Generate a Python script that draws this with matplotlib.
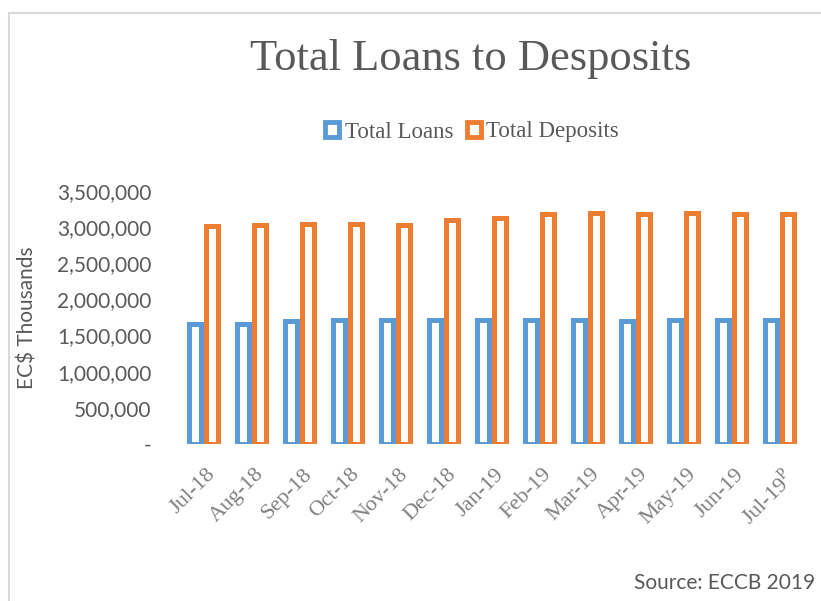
import matplotlib
matplotlib.use("Agg")
import matplotlib.pyplot as plt
import matplotlib.transforms as mtransforms
import numpy as np
from matplotlib.patches import Patch, Rectangle
from matplotlib.ticker import FuncFormatter

plt.rcParams['mathtext.fontset'] = 'custom'
plt.rcParams['mathtext.rm'] = 'Liberation Serif'

months = ["Jul-18", "Aug-18", "Sep-18", "Oct-18", "Nov-18", "Dec-18", "Jan-19",
          "Feb-19", "Mar-19", "Apr-19", "May-19", "Jun-19", r"Jul-19$^\mathrm{P}$"]
loans = [1665000, 1665000, 1700000, 1712000, 1712000, 1712000, 1715000,
         1712000, 1716000, 1705000, 1710000, 1713000, 1712000]
deposits = [3020000, 3035000, 3050000, 3050000, 3035000, 3095000, 3120000,
            3175000, 3192000, 3175000, 3192000, 3178000, 3178000]

blue = "#5B9BD5"
orange = "#ED7D31"
txt = "#595959"

fig = plt.figure(figsize=(8.21, 6.01), dpi=100)
ax = fig.add_axes([179.3 / 821, 1 - 444 / 601, 624 / 821, 253 / 601])

x = np.arange(len(months))
w = 0.244
off = 0.174
ax.bar(x - off, loans, w, facecolor="white", edgecolor=blue, linewidth=3.6, label="Total Loans")
ax.bar(x + off, deposits, w, facecolor="white", edgecolor=orange, linewidth=3.6, label="Total Deposits")

ax.set_xlim(-0.5, len(months) - 0.5)
ax.set_ylim(0, 3500000)
ax.set_yticks(np.arange(0, 3500001, 500000))
ax.yaxis.set_major_formatter(FuncFormatter(lambda v, p: "-" if v == 0 else f"{int(v):,}"))
for s in ax.spines.values():
    s.set_visible(False)
ax.tick_params(axis="y", length=0, pad=20, labelsize=15, labelcolor=txt)
ax.tick_params(axis="x", length=0, pad=15)
for lab in ax.get_yticklabels():
    lab.set_fontfamily("Lato")

ax.set_xticks(x)
ax.set_xticklabels(months, rotation=45, ha="right", rotation_mode="anchor",
                   fontsize=16, color="#808080", family="Liberation Serif")
shift = mtransforms.ScaledTranslation(3 / 100, 0, fig.dpi_scale_trans)
for lab in ax.get_xticklabels():
    lab.set_transform(lab.get_transform() + shift)

fig.text(27.5 / 821, 1 - 318 / 601, "EC$ Thousands", rotation=90, ha="center", va="center",
         fontsize=15, color=txt, family="Lato")

fig.text(471 / 821, 1 - 70 / 601, "Total Loans to Desposits", ha="center", va="baseline",
         fontsize=32, color=txt, family="Liberation Serif")

handles = [Patch(facecolor="white", edgecolor=blue, linewidth=3.5, label="Total Loans"),
           Patch(facecolor="white", edgecolor=orange, linewidth=3.5, label="Total Deposits")]
fig.legend(handles=handles, loc="center", bbox_to_anchor=(472 / 821, 1 - 132 / 601), ncol=2,
           frameon=False, handlelength=0.6, handleheight=0.6, handletextpad=0.25,
           columnspacing=0.6, prop={"family": "Liberation Serif", "size": 16.5}, labelcolor=txt)

fig.text(634 / 821, 1 - 583 / 601, "Source: ECCB 2019", ha="left", va="center",
         fontsize=15, color=txt, family="Lato")

fig.add_artist(Rectangle((9 / 821, -0.1), 1.2, 1.1 - 13 / 601, transform=fig.transFigure,
                         facecolor="none", edgecolor="#d9d9d9", linewidth=1.5))

fig.savefig("out.png", dpi=100)
